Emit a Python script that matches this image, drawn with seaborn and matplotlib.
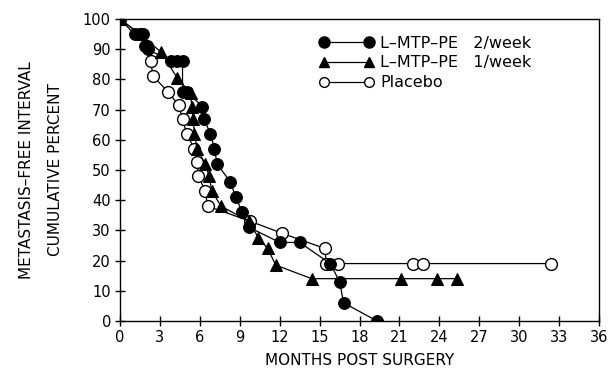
import matplotlib
matplotlib.use("Agg")
import matplotlib.pyplot as plt
import seaborn as sns
from matplotlib.lines import Line2D

sns.set_style("ticks")
plt.rcParams['font.family'] = ['DejaVu Sans']
plt.rcParams['text.color'] = 'black'
plt.rcParams['axes.labelcolor'] = 'black'

# Data
two_week_x = [0, 1.1, 1.7, 1.9, 2.1, 3.8, 4.3, 4.7, 4.7, 5.0, 6.2, 6.3, 6.8, 7.1, 7.3,
              8.3, 8.7, 9.2, 9.7, 12.0, 13.5, 15.8, 16.5, 16.8, 19.3]
two_week_y = [100, 95, 95, 91, 90, 86, 86, 86, 76, 76, 71, 67, 62, 57, 52,
              46, 41, 36, 31, 26, 26, 19, 13, 6, 0]

one_week_x = [0, 1.5, 3.1, 4.3, 5.3, 5.4, 5.5, 5.6, 5.8, 6.4, 6.7, 6.9, 7.6,
              9.7, 10.4, 11.1, 11.7, 14.4, 21.1, 23.8, 25.3]
one_week_y = [100, 95, 89, 80.5, 75.5, 71, 67, 62, 57, 52, 48, 43, 38,
              33, 27.5, 24, 18.5, 14, 14, 14, 14]

placebo_x = [0, 1.5, 2.0, 2.3, 2.5, 3.6, 4.4, 4.7, 5.0, 5.6, 5.8, 5.9, 6.4, 6.6,
             9.8, 12.2, 15.4, 15.5, 16.4, 22.0, 22.8, 32.4]
placebo_y = [100, 95, 91, 86, 81, 76, 71.5, 67, 62, 57, 52.7, 48, 43, 38,
             33, 29, 24, 19, 19, 19, 19, 19]

series_labels = ["L\u2013MTP\u2013PE   2/week", "L\u2013MTP\u2013PE   1/week", "Placebo"]
x_ticks = list(range(0, 37, 3))
y_ticks = list(range(0, 101, 10))

fig = plt.figure(figsize=(6.12, 3.89), dpi=100)
ax = fig.add_axes([0.196, 0.175, 0.783, 0.776])

common = dict(estimator=None, sort=False, color="black", linewidth=0.9, ax=ax,
              legend=False, markersize=8.5)
sns.lineplot(x=placebo_x, y=placebo_y, marker="o", markerfacecolor="white",
             markeredgecolor="black", markeredgewidth=1.0, **common)
sns.lineplot(x=one_week_x, y=one_week_y, marker="^", markerfacecolor="black",
             markeredgecolor="black", **common)
sns.lineplot(x=two_week_x, y=two_week_y, marker="o", markerfacecolor="black",
             markeredgecolor="black", **common)

ax.set_xlim(0, 36)
ax.set_ylim(0, 100)
ax.set_xticks(x_ticks)
ax.set_yticks(y_ticks)
ax.tick_params(direction="inout", length=7, width=1, labelsize=10.5, color="black",
               labelcolor="black", pad=3)
for s in ax.spines.values():
    s.set_linewidth(1.0)
    s.set_color("black")

ax.set_xlabel("MONTHS POST SURGERY", fontsize=11, labelpad=6)
ax.set_ylabel("METASTASIS\u2013FREE INTERVAL\nCUMULATIVE PERCENT", fontsize=11,
              labelpad=14, linespacing=2.2)

handles = [
    Line2D([0], [0], color="black", lw=0.9, marker="o", markersize=8,
           markerfacecolor="black", markeredgecolor="black"),
    Line2D([0], [0], color="black", lw=0.9, marker="^", markersize=7.5,
           markerfacecolor="black", markeredgecolor="black"),
    Line2D([0], [0], color="black", lw=0.9, marker="o", markersize=7,
           markerfacecolor="white", markeredgecolor="black"),
]
ax.legend(handles, series_labels, loc="upper left", frameon=False, fontsize=11.5,
          numpoints=2, handlelength=3.45, handletextpad=0.4, labelspacing=0.3,
          borderpad=0, borderaxespad=0, bbox_to_anchor=(0.415, 0.945))

fig.savefig("out.png", dpi=100)
